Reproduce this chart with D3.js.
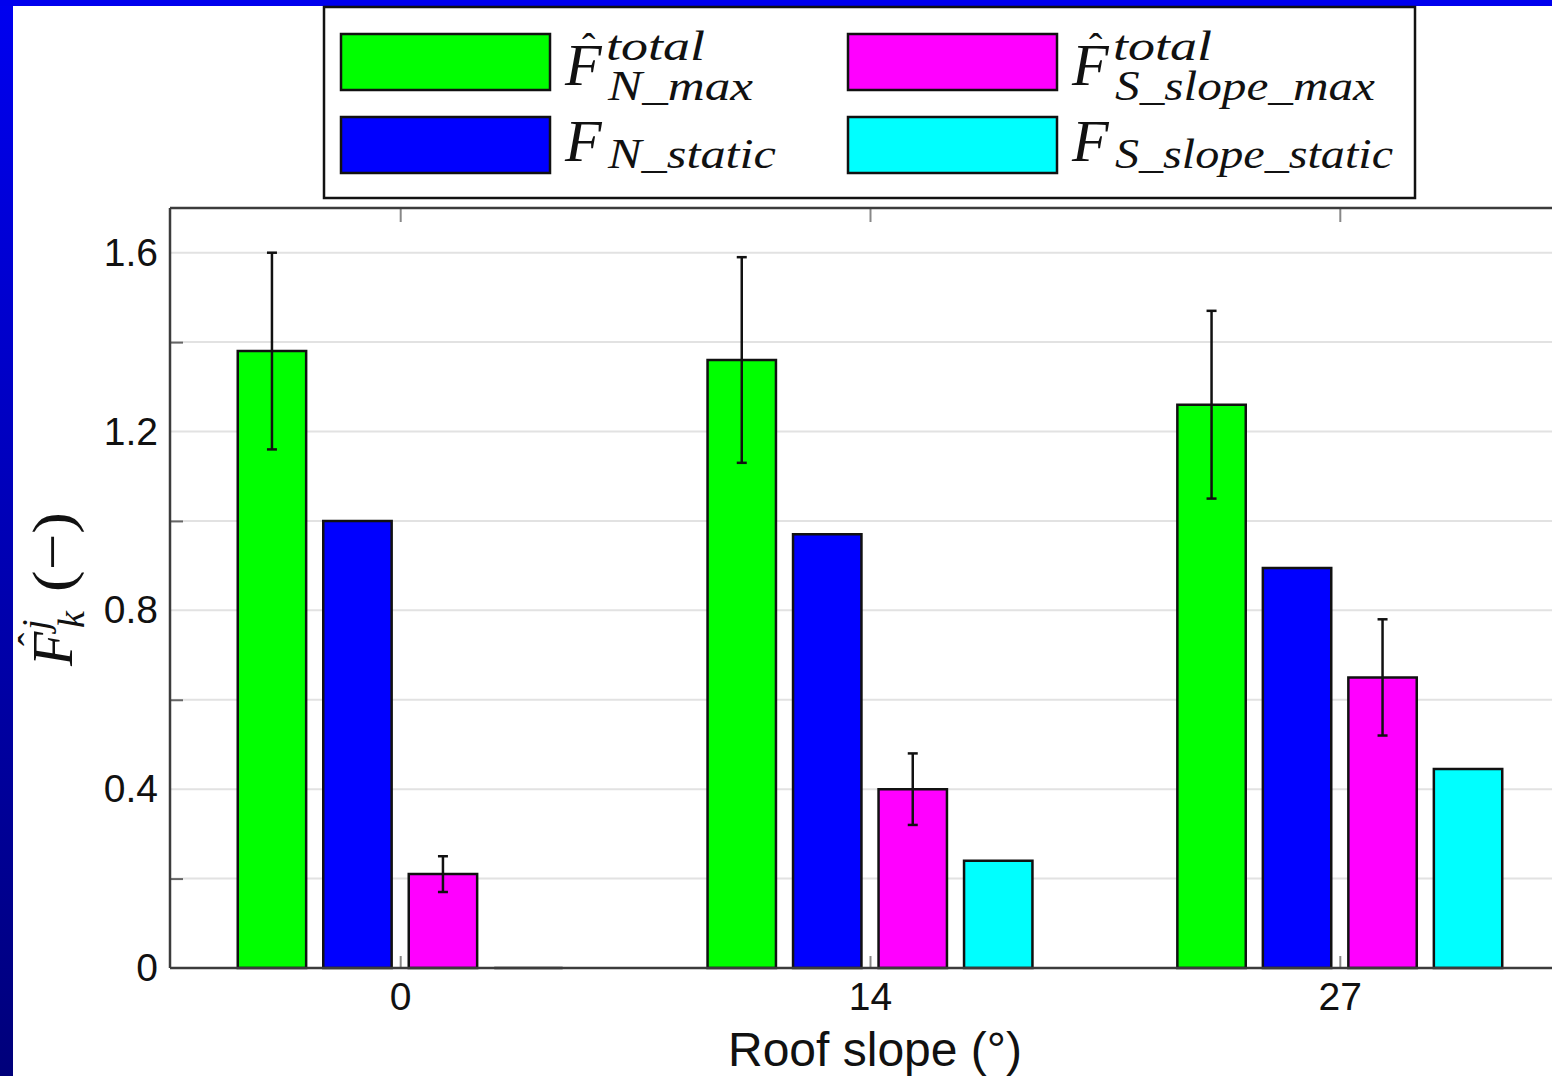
<!DOCTYPE html>
<html>
<head>
<meta charset="utf-8">
<script src="https://cdn.jsdelivr.net/npm/d3@7"></script>
<style>
  html, body { margin: 0; padding: 0; background: #fff; }
  svg { display: block; }
  .tick text { font-family: "Liberation Sans", Arial, sans-serif; fill: #111; }
  .math { font-family: "Liberation Serif", "DejaVu Serif", serif; font-style: italic; fill: #111; }
</style>
</head>
<body>
<svg id="chart" width="1552" height="1076"></svg>
<script>
// roof slope categories (degrees)
const slopes = ['0', '14', '27'];
const seriesKeys = ['nMax', 'nStatic', 'sMax', 'sStatic'];
const seriesColors = ['#00ff00', '#0000ff', '#ff00ff', '#00ffff'];

// bar heights per slope
const nMax = [1.38, 1.36, 1.26];
const nStatic = [1.00, 0.97, 0.895];
const sMax = [0.21, 0.40, 0.65];
const sStatic = [0.0, 0.24, 0.445];

// error bar bounds (only the "max" series have them)
const nMaxLow = [1.16, 1.13, 1.05];
const nMaxHigh = [1.60, 1.59, 1.47];
const sMaxLow = [0.17, 0.32, 0.52];
const sMaxHigh = [0.25, 0.48, 0.78];

const yLabelTicks = [0, 0.4, 0.8, 1.2, 1.6];
const yMinorTicks = [0.2, 0.6, 1.0, 1.4];
const yGrid = [0.2, 0.4, 0.6, 0.8, 1.0, 1.2, 1.4, 1.6];

const values = { nMax, nStatic, sMax, sStatic };
const errs = { nMax: [nMaxLow, nMaxHigh], sMax: [sMaxLow, sMaxHigh] };

const svg = d3.select('#chart');
const W = 1552, H = 1076;
const plotLeft = 170, plotTop = 208, plotBottom = 968;

// slide frame: gradient strip on the left, blue band on top
const defs = svg.append('defs');
const grad = defs.append('linearGradient').attr('id', 'frame').attr('x1', 0).attr('y1', 0).attr('x2', 0).attr('y2', 1);
grad.append('stop').attr('offset', '0%').attr('stop-color', '#0000f0');
grad.append('stop').attr('offset', '100%').attr('stop-color', '#00007a');
svg.append('rect').attr('x', 0).attr('y', 0).attr('width', 13).attr('height', H).attr('fill', 'url(#frame)');
svg.append('rect').attr('x', 0).attr('y', 0).attr('width', W).attr('height', 6).attr('fill', '#0000ee');

const x = d3.scalePoint().domain(slopes).range([plotLeft, 1570]).padding(0.49);
const xInner = d3.scaleBand().domain(seriesKeys).range([-171, 171]).paddingInner(0.2).paddingOuter(0.1);
const y = d3.scaleLinear().domain([0, 1.7]).range([plotBottom, plotTop]);

const g = svg.append('g');

// grid
g.selectAll('.grid').data(yGrid).join('line')
    .attr('class', 'grid')
    .attr('x1', plotLeft).attr('x2', W)
    .attr('y1', d => y(d)).attr('y2', d => y(d))
    .attr('stroke', '#e2e2e2').attr('stroke-width', 2);

// axes
const axisColor = '#3c3c3c';
const yAxis = g.append('g').attr('transform', `translate(${plotLeft},0)`)
    .call(d3.axisLeft(y).tickValues(yLabelTicks).tickSize(0).tickPadding(12)
        .tickFormat(d => d === 0 ? '0' : d3.format('.1f')(d)));
yAxis.select('.domain').remove();
yAxis.selectAll('text').style('font-size', '39px');

const yMinor = g.append('g').attr('transform', `translate(${plotLeft},0)`)
    .call(d3.axisRight(y).tickValues(yMinorTicks).tickSize(13).tickFormat(''));
yMinor.select('.domain').remove();
yMinor.selectAll('line').attr('stroke', '#666').attr('stroke-width', 2);

const xAxis = g.append('g').attr('transform', `translate(0,${plotBottom})`)
    .call(d3.axisBottom(x).tickSize(0).tickPadding(14));
xAxis.select('.domain').remove();
xAxis.selectAll('text').style('font-size', '39px');

const xTicksBottom = g.append('g').attr('transform', `translate(0,${plotBottom})`)
    .call(d3.axisTop(x).tickSize(12).tickFormat(''));
xTicksBottom.select('.domain').remove();
xTicksBottom.selectAll('line').attr('stroke', '#888').attr('stroke-width', 2);

const xTicksTop = g.append('g').attr('transform', `translate(0,${plotTop})`)
    .call(d3.axisBottom(x).tickSize(14).tickFormat(''));
xTicksTop.select('.domain').remove();
xTicksTop.selectAll('line').attr('stroke', '#888').attr('stroke-width', 2);

// bars (paths so a zero-height bar still shows its outline)
const rows = [];
slopes.forEach((s, i) => seriesKeys.forEach((k, j) => rows.push({ s, k, j, v: values[k][i], i })));

g.append('g').selectAll('path').data(rows).join('path')
    .attr('d', d => {
        const x0 = x(d.s) + xInner(d.k), x1 = x0 + xInner.bandwidth();
        return `M${x0},${y(0)}V${y(d.v)}H${x1}V${y(0)}Z`;
    })
    .attr('fill', d => seriesColors[d.j])
    .attr('stroke', '#111').attr('stroke-width', 2.5);

// frame lines
g.append('line').attr('x1', plotLeft).attr('x2', W).attr('y1', plotBottom).attr('y2', plotBottom).attr('stroke', axisColor).attr('stroke-width', 2.5);
g.append('line').attr('x1', plotLeft).attr('x2', W).attr('y1', plotTop).attr('y2', plotTop).attr('stroke', axisColor).attr('stroke-width', 2.5);
g.append('line').attr('x1', plotLeft).attr('x2', plotLeft).attr('y1', plotTop).attr('y2', plotBottom).attr('stroke', axisColor).attr('stroke-width', 2.5);

// error bars
const errRows = rows.filter(d => errs[d.k]).map(d => ({
    cx: x(d.s) + xInner(d.k) + xInner.bandwidth() / 2,
    lo: errs[d.k][0][d.i], hi: errs[d.k][1][d.i]
}));
const eb = g.append('g').attr('stroke', '#111').attr('stroke-width', 2.5);
eb.selectAll('.ev').data(errRows).join('line').attr('class', 'ev')
    .attr('x1', d => d.cx).attr('x2', d => d.cx).attr('y1', d => y(d.lo)).attr('y2', d => y(d.hi));
eb.selectAll('.ecl').data(errRows).join('line').attr('class', 'ecl')
    .attr('x1', d => d.cx - 5).attr('x2', d => d.cx + 5).attr('y1', d => y(d.lo)).attr('y2', d => y(d.lo));
eb.selectAll('.ech').data(errRows).join('line').attr('class', 'ech')
    .attr('x1', d => d.cx - 5).attr('x2', d => d.cx + 5).attr('y1', d => y(d.hi)).attr('y2', d => y(d.hi));

// x label
svg.append('text').attr('x', 875).attr('y', 1066).attr('text-anchor', 'middle')
    .style('font-family', '"Liberation Sans", Arial, sans-serif').style('font-size', '48px').attr('fill', '#111')
    .text('Roof slope (°)');

// y label (rotated math)
const yl = svg.append('g').attr('transform', 'translate(72,666) rotate(-90)');
yl.append('text').attr('class', 'math').attr('x', 0).attr('y', 0).style('font-size', '56px').text('F');
yl.append('text').attr('class', 'math').attr('x', 20).attr('y', -26).style('font-size', '40px').style('font-style', 'normal').text('ˆ');
yl.append('text').attr('class', 'math').attr('x', 36).attr('y', -24).style('font-size', '38px').text('j');
yl.append('text').attr('class', 'math').attr('x', 38).attr('y', 12).style('font-size', '38px').text('k');
yl.append('text').attr('class', 'math').attr('x', 74).attr('y', 0).style('font-size', '58px').style('font-style', 'normal')
    .attr('textLength', 80).attr('lengthAdjust', 'spacingAndGlyphs').text('(−)');

// legend
const legend = svg.append('g');
legend.append('rect').attr('x', 324).attr('y', 7).attr('width', 1091).attr('height', 191)
    .attr('fill', '#fff').attr('stroke', '#111').attr('stroke-width', 2.5);

const legendItems = [
    { c: 0, r: 0, hat: true, sup: 'total', sub: 'N_max', subW: 145 },
    { c: 0, r: 1, hat: false, sup: null, sub: 'N_static', subW: 168 },
    { c: 1, r: 0, hat: true, sup: 'total', sub: 'S_slope_max', subW: 260 },
    { c: 1, r: 1, hat: false, sup: null, sub: 'S_slope_static', subW: 278 }
];
const colX = [341, 848], rowY = [34, 117];
legendItems.forEach((it, i) => {
    const sx = colX[it.c], sy = rowY[it.r];
    legend.append('rect').attr('x', sx).attr('y', sy).attr('width', 209).attr('height', 56)
        .attr('fill', seriesColors[i]).attr('stroke', '#111').attr('stroke-width', 2.5);
    const fx = sx + 224, base = it.r === 0 ? 85 : 161;
    legend.append('text').attr('class', 'math').attr('x', fx).attr('y', base).style('font-size', '60px').text('F');
    if (it.hat) {
        legend.append('text').attr('class', 'math').attr('x', fx + 17).attr('y', base - 24)
            .style('font-size', '40px').style('font-style', 'normal').text('ˆ');
    }
    if (it.sup) {
        legend.append('text').attr('class', 'math').attr('x', fx + 41).attr('y', base - 25)
            .style('font-size', '42px').attr('textLength', 99).attr('lengthAdjust', 'spacingAndGlyphs').text(it.sup);
    }
    legend.append('text').attr('class', 'math').attr('x', fx + 43).attr('y', it.r === 0 ? 100 : 168)
        .style('font-size', '42px').attr('textLength', it.subW).attr('lengthAdjust', 'spacingAndGlyphs').text(it.sub);
});
</script>
</body>
</html>
